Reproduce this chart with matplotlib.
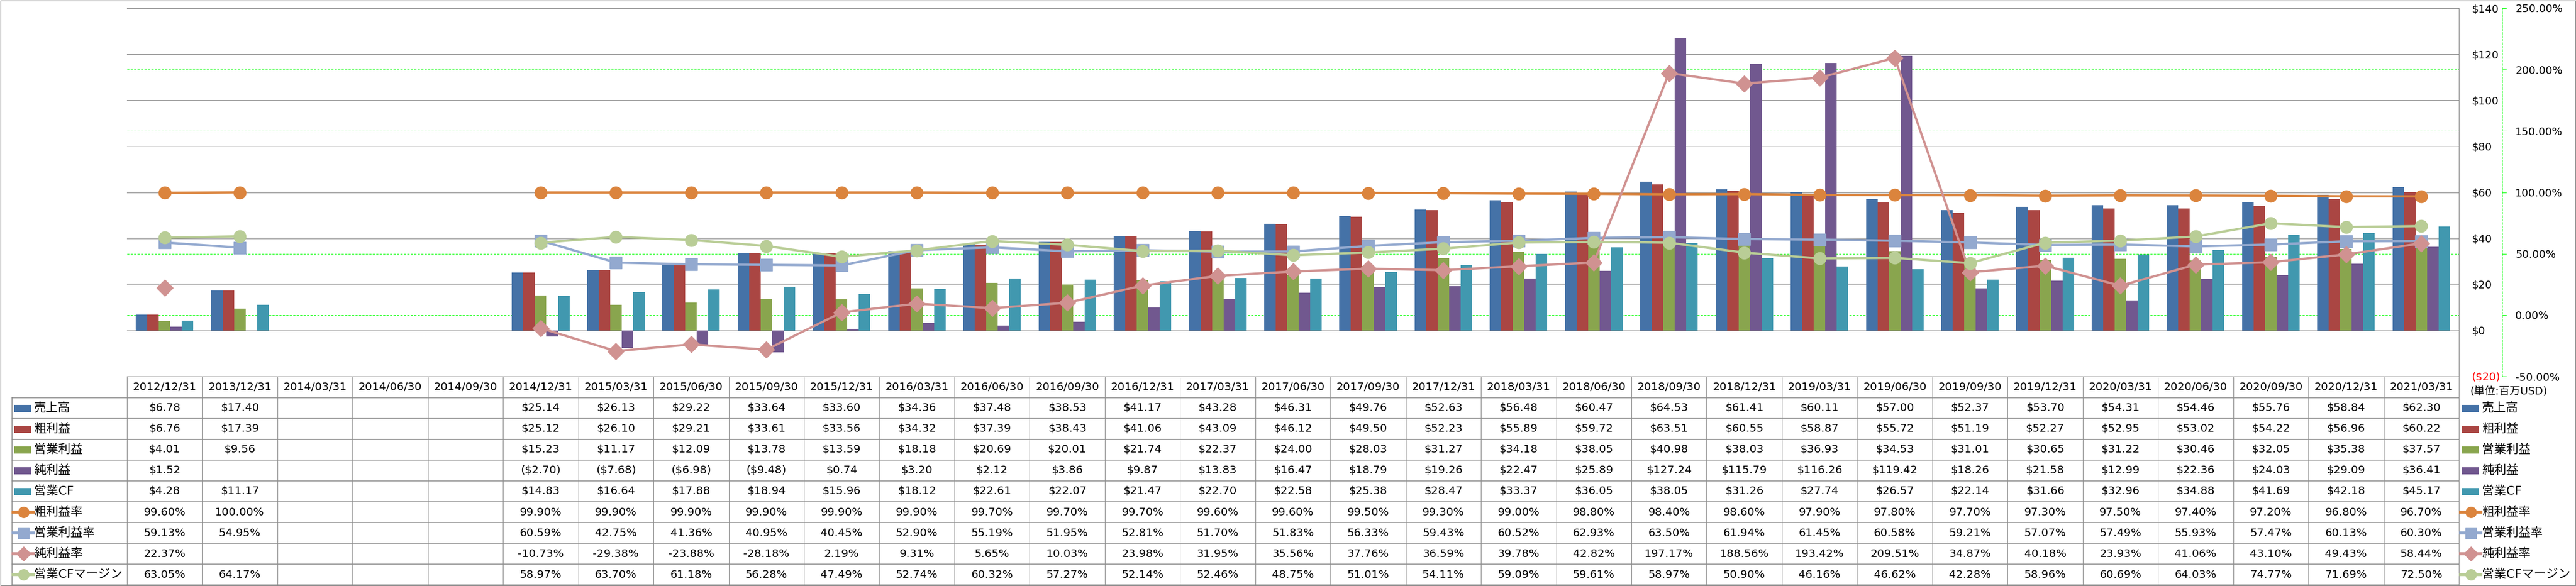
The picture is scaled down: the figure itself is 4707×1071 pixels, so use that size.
import numpy as np
import matplotlib.pyplot as plt
from matplotlib.lines import Line2D
from matplotlib.patches import Rectangle
from matplotlib.transforms import blended_transform_factory

plt.rcParams['font.family'] = ['DejaVu Sans', 'Noto Sans CJK JP']

nan = np.nan

dates = ['2012/12/31', '2013/12/31', '2014/03/31', '2014/06/30', '2014/09/30',
         '2014/12/31', '2015/03/31', '2015/06/30', '2015/09/30', '2015/12/31',
         '2016/03/31', '2016/06/30', '2016/09/30', '2016/12/31', '2017/03/31',
         '2017/06/30', '2017/09/30', '2017/12/31', '2018/03/31', '2018/06/30',
         '2018/09/30', '2018/12/31', '2019/03/31', '2019/06/30', '2019/09/30',
         '2019/12/31', '2020/03/31', '2020/06/30', '2020/09/30', '2020/12/31',
         '2021/03/31']

# 百万USD
sales = [6.78, 17.40, nan, nan, nan, 25.14, 26.13, 29.22, 33.64, 33.60, 34.36,
         37.48, 38.53, 41.17, 43.28, 46.31, 49.76, 52.63, 56.48, 60.47, 64.53,
         61.41, 60.11, 57.00, 52.37, 53.70, 54.31, 54.46, 55.76, 58.84, 62.30]
gross = [6.76, 17.39, nan, nan, nan, 25.12, 26.10, 29.21, 33.61, 33.56, 34.32,
         37.39, 38.43, 41.06, 43.09, 46.12, 49.50, 52.23, 55.89, 59.72, 63.51,
         60.55, 58.87, 55.72, 51.19, 52.27, 52.95, 53.02, 54.22, 56.96, 60.22]
op_income = [4.01, 9.56, nan, nan, nan, 15.23, 11.17, 12.09, 13.78, 13.59, 18.18,
             20.69, 20.01, 21.74, 22.37, 24.00, 28.03, 31.27, 34.18, 38.05, 40.98,
             38.03, 36.93, 34.53, 31.01, 30.65, 31.22, 30.46, 32.05, 35.38, 37.57]
net_income = [1.52, nan, nan, nan, nan, -2.70, -7.68, -6.98, -9.48, 0.74, 3.20,
              2.12, 3.86, 9.87, 13.83, 16.47, 18.79, 19.26, 22.47, 25.89, 127.24,
              115.79, 116.26, 119.42, 18.26, 21.58, 12.99, 22.36, 24.03, 29.09, 36.41]
op_cf = [4.28, 11.17, nan, nan, nan, 14.83, 16.64, 17.88, 18.94, 15.96, 18.12,
         22.61, 22.07, 21.47, 22.70, 22.58, 25.38, 28.47, 33.37, 36.05, 38.05,
         31.26, 27.74, 26.57, 22.14, 31.66, 32.96, 34.88, 41.69, 42.18, 45.17]

# %
gross_margin = [99.60, 100.00, nan, nan, nan, 99.90, 99.90, 99.90, 99.90, 99.90,
                99.90, 99.70, 99.70, 99.70, 99.60, 99.60, 99.50, 99.30, 99.00,
                98.80, 98.40, 98.60, 97.90, 97.80, 97.70, 97.30, 97.50, 97.40,
                97.20, 96.80, 96.70]
op_margin = [59.13, 54.95, nan, nan, nan, 60.59, 42.75, 41.36, 40.95, 40.45, 52.90,
             55.19, 51.95, 52.81, 51.70, 51.83, 56.33, 59.43, 60.52, 62.93, 63.50,
             61.94, 61.45, 60.58, 59.21, 57.07, 57.49, 55.93, 57.47, 60.13, 60.30]
net_margin = [22.37, nan, nan, nan, nan, -10.73, -29.38, -23.88, -28.18, 2.19, 9.31,
              5.65, 10.03, 23.98, 31.95, 35.56, 37.76, 36.59, 39.78, 42.82, 197.17,
              188.56, 193.42, 209.51, 34.87, 40.18, 23.93, 41.06, 43.10, 49.43, 58.44]
cf_margin = [63.05, 64.17, nan, nan, nan, 58.97, 63.70, 61.18, 56.28, 47.49, 52.74,
             60.32, 57.27, 52.14, 52.46, 48.75, 51.01, 54.11, 59.09, 59.61, 58.97,
             50.90, 46.16, 46.62, 42.28, 58.96, 60.69, 64.03, 74.77, 71.69, 72.50]

bar_names = ['売上高', '粗利益', '営業利益', '純利益', '営業CF']
bar_data = [sales, gross, op_income, net_income, op_cf]
bar_colors = ['#4572A7', '#AA4643', '#89A54E', '#71588F', '#4198AF']

rate_names = ['粗利益率', '営業利益率', '純利益率', '営業CFマージン']
rate_data = [gross_margin, op_margin, net_margin, cf_margin]
rate_colors = ['#DB843D', '#93A9CF', '#D09291', '#B9CD96']
rate_markers = ['o', 's', 'D', 'o']
rate_msize = [16, 16, 15, 16]

usd_ticks = np.arange(-20, 141, 20)
pct_ticks = np.arange(-50, 251, 50)

W, H = 4707, 1071
fig = plt.figure(figsize=(W / 100, H / 100), dpi=100)


def fx(px):
    return px / W


def fy(px):
    return 1 - px / H


left, right, top, bottom = 232, 4493, 15, 688
ax = fig.add_axes([fx(left), fy(bottom), fx(right - left), (bottom - top) / H])
axg = ax.twinx()
ax2 = ax.twinx()
axg.set_zorder(0)
ax.set_zorder(1)
ax2.set_zorder(2)
ax.patch.set_visible(False)
ax2.patch.set_visible(False)

x = np.arange(len(dates))
ax.set_xlim(-0.5, len(dates) - 0.5)

# bars
bw = 0.153
for k, (vals, c) in enumerate(zip(bar_data, bar_colors)):
    ax.bar(x + (k - 2) * bw, vals, bw, color=c, linewidth=0, zorder=2)

ax.set_ylim(-20, 140)
ax.set_axisbelow(True)
ax.grid(axis='y', color='#868686', lw=0.75)
ax.set_xticks([])
ax.yaxis.tick_right()
ax.set_yticks(usd_ticks, [f'${v:.0f}' if v >= 0 else f'(${-v:.0f})' for v in usd_ticks])
ax.tick_params(axis='y', length=0, pad=17, labelsize=14)
for lbl, v in zip(ax.get_yticklabels(), usd_ticks):
    if v < 0:
        lbl.set_color('red')
for s in ['left', 'top']:
    ax.spines[s].set_visible(False)
ax.spines['right'].set_color('#868686')
ax.spines['bottom'].set_color('#868686')

# green dashed grid for the % axis, behind the bars
axg.set_ylim(-50, 250)
axg.set_yticks(pct_ticks)
axg.grid(axis='y', color='#00FF00', lw=0.7, ls=(0, (4, 2.5)))
axg.tick_params(axis='y', length=0, labelright=False, labelleft=False)
for s in axg.spines.values():
    s.set_visible(False)

# rate lines
for vals, c, m, ms in zip(rate_data, rate_colors, rate_markers, rate_msize):
    ax2.plot(x, vals, color=c, lw=3, marker=m, ms=ms, mfc=c, mec=c, zorder=3)

ax2.set_ylim(-50, 250)
ax2.set_xticks([])
ax2.set_yticks(pct_ticks, [f'{p:.2f}%' for p in pct_ticks])
ax2.tick_params(axis='y', direction='out', length=5.8, color='#00FF00',
                width=0.7, pad=11.5, labelsize=14)
for lbl, p in zip(ax2.get_yticklabels(), pct_ticks):
    if p < 0:
        lbl.set_color('red')
for s in ['left', 'top', 'bottom']:
    ax2.spines[s].set_visible(False)
ax2.spines['right'].set_position(('outward', 57))
ax2.spines['right'].set_color('#00FF00')
ax2.spines['right'].set_linestyle((0, (4, 2.5)))
ax2.spines['right'].set_linewidth(0.7)

# data table
trans = blended_transform_factory(ax.transData, fig.transFigure)
grid_c = '#8c8c8c'
row_top, row_h = 727, 38
n_rows = len(bar_names) + len(rate_names)

for i, d in enumerate(dates):
    ax.text(i, fy((bottom + row_top) / 2), d, transform=trans, ha='center',
            va='center', fontsize=14.5, clip_on=False)

for k in range(len(dates) + 1):
    fig.add_artist(Line2D([k - 0.5, k - 0.5], [fy(bottom), fy(row_top + n_rows * row_h)],
                          transform=trans, color=grid_c, lw=0.8))
for r in range(n_rows + 1):
    yy = fy(row_top + r * row_h)
    fig.add_artist(Line2D([fx(22), fx(right)], [yy, yy], transform=fig.transFigure,
                          color=grid_c, lw=1.1))
fig.add_artist(Line2D([fx(22), fx(22)], [fy(row_top), fy(row_top + n_rows * row_h)],
                      transform=fig.transFigure, color=grid_c, lw=1.1))


def fmt_usd(v):
    if np.isnan(v):
        return ''
    return f'${v:.2f}' if v >= 0 else f'(${-v:.2f})'


def fmt_pct(v):
    if np.isnan(v):
        return ''
    return f'{v:.2f}%'


def draw_key(x0, yc, r):
    if r < len(bar_names):
        fig.add_artist(Rectangle((fx(x0), fy(yc + 6.5)), 31 / W, 13 / H,
                                 transform=fig.transFigure, color=bar_colors[r], lw=0))
    else:
        j = r - len(bar_names)
        fig.add_artist(Line2D([fx(x0 - 2), fx(x0 + 16.5), fx(x0 + 35)], [fy(yc)] * 3,
                              transform=fig.transFigure, color=rate_colors[j], lw=4,
                              marker=rate_markers[j], ms=rate_msize[j] - 2, markevery=[1],
                              mfc=rate_colors[j], mec=rate_colors[j]))


names = bar_names + rate_names
for r, name in enumerate(names):
    yc = row_top + (r + 0.5) * row_h
    if r < len(bar_names):
        vals = [fmt_usd(v) for v in bar_data[r]]
    else:
        vals = [fmt_pct(v) for v in rate_data[r - len(bar_names)]]
    for i, s in enumerate(vals):
        ax.text(i, fy(yc), s, transform=trans, ha='center', va='center',
                fontsize=14.5, clip_on=False)
    # row header
    draw_key(26, yc, r)
    fig.text(fx(62), fy(yc), name, fontsize=16, va='center')
    # right legend
    draw_key(4498, yc, r)
    fig.text(fx(4535), fy(yc), name, fontsize=16, va='center')

fig.text(fx(4513), fy(715), '(単位:百万USD)', fontsize=14, va='center')

fig.add_artist(Rectangle((fx(1), fy(1070)), 4705 / W, 1069 / H, fill=False,
                         ec='#868686', lw=1, transform=fig.transFigure))

fig.savefig('out.png', dpi=100)
